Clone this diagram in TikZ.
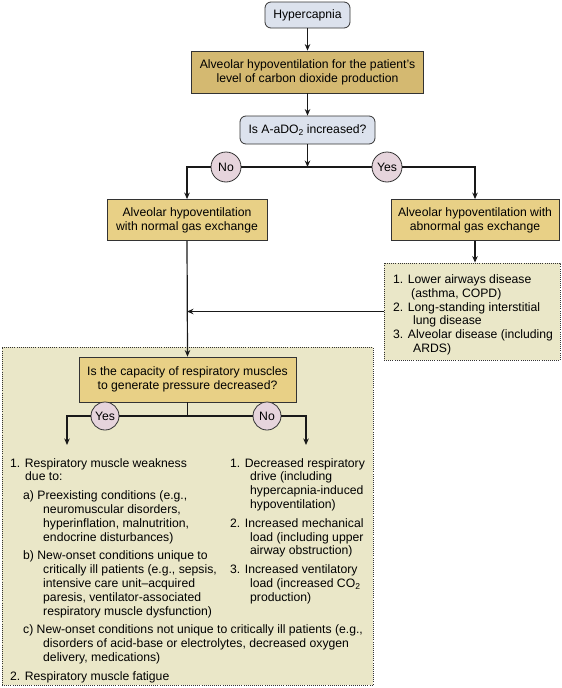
\documentclass[tikz,border=0pt]{standalone}
\usepackage{fontspec}
\setmainfont{Liberation Sans}
\usetikzlibrary{arrows.meta}
\definecolor{bluefill}{HTML}{DCE2ED}
\definecolor{tandark}{HTML}{D4B971}
\definecolor{tanlight}{HTML}{E8D086}
\definecolor{olivefill}{HTML}{EAE7C8}
\definecolor{mauvefill}{HTML}{E6D4DC}
\definecolor{edge}{HTML}{333333}
\newcommand{\subtwo}{\raisebox{-0.3ex}{\fontsize{8.5}{8.5}\selectfont 2}}
\newcommand{\fsz}{\fontsize{12.2}{13.8}\selectfont}
% list paragraph: #1 left skip, #2 hanging indent, #3 lines
\newcommand{\litem}[3]{{\leftskip=#1\hangindent=#2\hangafter=1\noindent #3\par}}
\newcommand{\lblock}[3]{\parbox[t]{#1}{\fsz\parindent=0pt\parskip=#2\relax #3}}
\tikzset{
  conn/.style={line width=1.2pt, draw=black!90},
  arr/.style={conn, -{Stealth[length=6.5pt,width=5.5pt]}},
  bluebox/.style={rounded corners=6pt, draw=edge, fill=bluefill, line width=0.8pt, align=center, inner sep=0pt, font=\fsz},
  tanbox/.style={draw=edge, fill=tandark, line width=0.8pt, align=center, inner sep=0pt, font=\fsz},
  lightbox/.style={draw=edge, fill=tanlight, line width=0.8pt, align=center, inner sep=0pt, font=\fsz},
  dotbox/.style={draw=edge, fill=olivefill, line width=0.8pt, dash pattern=on 0.8pt off 1.3pt, inner sep=0pt},
  yn/.style={circle, draw=edge, fill=mauvefill, line width=0.8pt, inner sep=0pt, font=\fsz},
  listtext/.style={inner sep=0pt, anchor=north west},
}
\begin{document}
\begin{tikzpicture}[x=1pt,y=-1pt]
\useasboundingbox (0,0) rectangle (562,688);
% top part
\node[bluebox, minimum width=85, minimum height=26] (hyp) at (307.5,15) {Hypercapnia};
\node[tanbox, minimum width=232, minimum height=42] (box2) at (307.5,72) {Alveolar hypoventilation for the patient’s\\level of carbon dioxide production};
\node[bluebox, minimum width=135, minimum height=28] (q1) at (307.5,130) {Is A-aDO\subtwo{} increased?};
\coordinate (j1) at (307.5,167);
\node[lightbox, minimum width=160, minimum height=41] (lbox) at (187,220) {Alveolar hypoventilation\\with normal gas exchange};
\node[lightbox, minimum width=168, minimum height=41] (rbox) at (475,220) {Alveolar hypoventilation with\\abnormal gas exchange};
\node[dotbox, minimum width=176, minimum height=97] (list1) at (472,311.5) {};
\node[listtext] (list1text) at (393,274.5) {\lblock{165pt}{0pt}{%
\litem{0pt}{18pt}{1. Lower airways disease\\(asthma, COPD)}%
\litem{0pt}{20pt}{2. Long-standing interstitial\\lung disease}%
\litem{0pt}{20pt}{3. Alveolar disease (including\\ARDS)}}};
\draw[arr] (hyp) -- (box2);
\draw[arr] (box2) -- (q1);
\draw[arr] (q1) -- (j1);
\node[yn, minimum size=30] (no1) at (226,167) {No};
\node[yn, minimum size=30] (yes1) at (387,167) {Yes};
\draw[conn] (no1) -- (yes1);
\draw[arr] (no1.west) -| (lbox.north);
\draw[arr] (yes1.east) -| (rbox.north);
\draw[arr] (rbox.south) -- (rbox.south |- list1.north);
% lower part
\node[dotbox, minimum width=371, minimum height=338] (big) at (187.5,516) {};
\node[lightbox, minimum width=217, minimum height=45] (q2) at (187.5,379.5) {Is the capacity of respiratory muscles\\to generate pressure decreased?};
\draw[arr] (lbox.south) -- (q2.north);
\draw[arr] (list1.west) -- (list1.west -| lbox.south);
\coordinate (j2) at (187.5,416);
\coordinate (c1) at (67,445);
\coordinate (c2) at (306,445);
\draw[conn] (q2.south) -- (j2);
\node[yn, minimum size=28] (yes2) at (105,416) {Yes};
\node[yn, minimum size=28] (no2) at (267,416) {No};
\draw[conn] (yes2) -- (no2);
\draw[arr] (yes2.west) -| (c1);
\draw[arr] (no2.east) -| (c2);
\node[listtext] (llist) at (10,458) {\lblock{360pt}{5pt}{%
\litem{0pt}{15pt}{1. Respiratory muscle weakness\\due to:}%
\litem{13pt}{20pt}{a) Preexisting conditions (e.g.,\\neuromuscular disorders,\\hyperinflation, malnutrition,\\endocrine disturbances)}%
\litem{13pt}{20pt}{b) New-onset conditions unique to\\critically ill patients (e.g., sepsis,\\intensive care unit–acquired\\paresis, ventilator-associated\\respiratory muscle dysfunction)}%
\litem{13pt}{20pt}{c) New-onset conditions not unique to critically ill patients (e.g.,\\disorders of acid-base or electrolytes, decreased oxygen\\delivery, medications)}%
\litem{0pt}{15pt}{2. Respiratory muscle fatigue}}};
\node[listtext] (rlist) at (230,458) {\lblock{140pt}{5pt}{%
\litem{0pt}{20pt}{1. Decreased respiratory\\drive (including\\hypercapnia-induced\\hypoventilation)}%
\litem{0pt}{20pt}{2. Increased mechanical\\load (including upper\\airway obstruction)}%
\litem{0pt}{20pt}{3. Increased ventilatory\\load (increased CO\subtwo\\production)}}};
\end{tikzpicture}
\end{document}
